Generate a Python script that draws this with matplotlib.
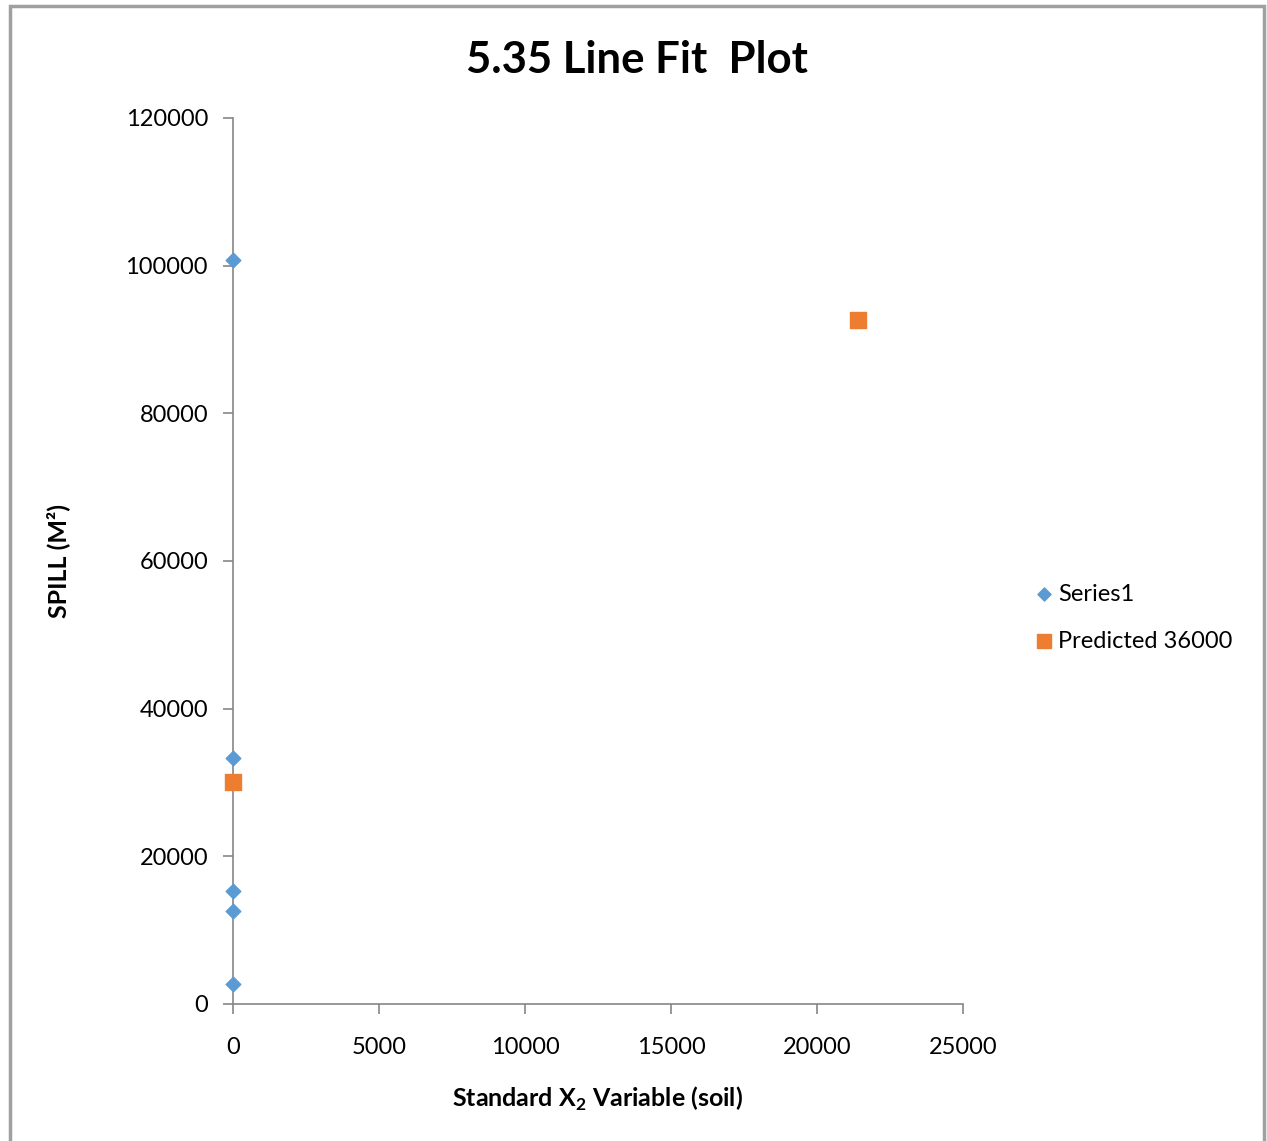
import matplotlib
matplotlib.use('Agg')
import matplotlib.pyplot as plt
from matplotlib.patches import Rectangle

# Data
series1_x = [0, 0, 0, 0, 0]
series1_y = [100800, 33300, 15300, 12600, 2700]
pred_x = [0, 21400]
pred_y = [30000, 92650]

x_ticks = [0, 5000, 10000, 15000, 20000, 25000]
y_ticks = [0, 20000, 40000, 60000, 80000, 100000, 120000]

blue = '#5B9BD5'
orange = '#ED7D31'
grey = '#868686'

plt.rcParams['font.family'] = ['Lato', 'DejaVu Sans']

fig = plt.figure(figsize=(12.67, 11.41), dpi=100)
ax = fig.add_axes([0.1839, 0.1201, 0.5762, 0.7765])

ax.scatter(series1_x, series1_y, marker='D', s=55, color=blue,
           label='Series1', zorder=3, clip_on=False)
ax.scatter(pred_x, pred_y, marker='s', s=120, color=orange,
           label='Predicted 36000', zorder=3, clip_on=False)

ax.set_xlim(0, 25000)
ax.set_ylim(0, 120000)
ax.set_xticks(x_ticks)
ax.set_yticks(y_ticks)
ax.tick_params(labelsize=17, color=grey, length=7, width=1.2)
ax.tick_params(axis='x', pad=17)
ax.tick_params(axis='y', pad=11)

for side in ['top', 'right']:
    ax.spines[side].set_visible(False)
for side in ['left', 'bottom']:
    ax.spines[side].set_color(grey)
    ax.spines[side].set_linewidth(1.2)

fig.text(0.503, 0.947, '5.35 Line Fit  Plot', ha='center', va='center',
         fontsize=31.5, fontweight='bold')
ax.set_xlabel('Standard X$_\\mathregular{2}$ Variable (soil)',
              fontsize=18, fontweight='bold', labelpad=19)
ax.set_ylabel('SPILL (M²)', fontsize=18, fontweight='bold', labelpad=40)

ax.legend(loc='center left', bbox_to_anchor=(1.065, 0.436), frameon=False,
          fontsize=17, handletextpad=0.1, labelspacing=1.1,
          handlelength=1.0, markerscale=0.9)

# outer chart border
border = Rectangle((0.0075, -0.01), 0.9905, 1.0047, transform=fig.transFigure,
                   fill=False, edgecolor='#a0a0a0', linewidth=2.5)
fig.patches.append(border)

fig.savefig('out.png', dpi=100)
